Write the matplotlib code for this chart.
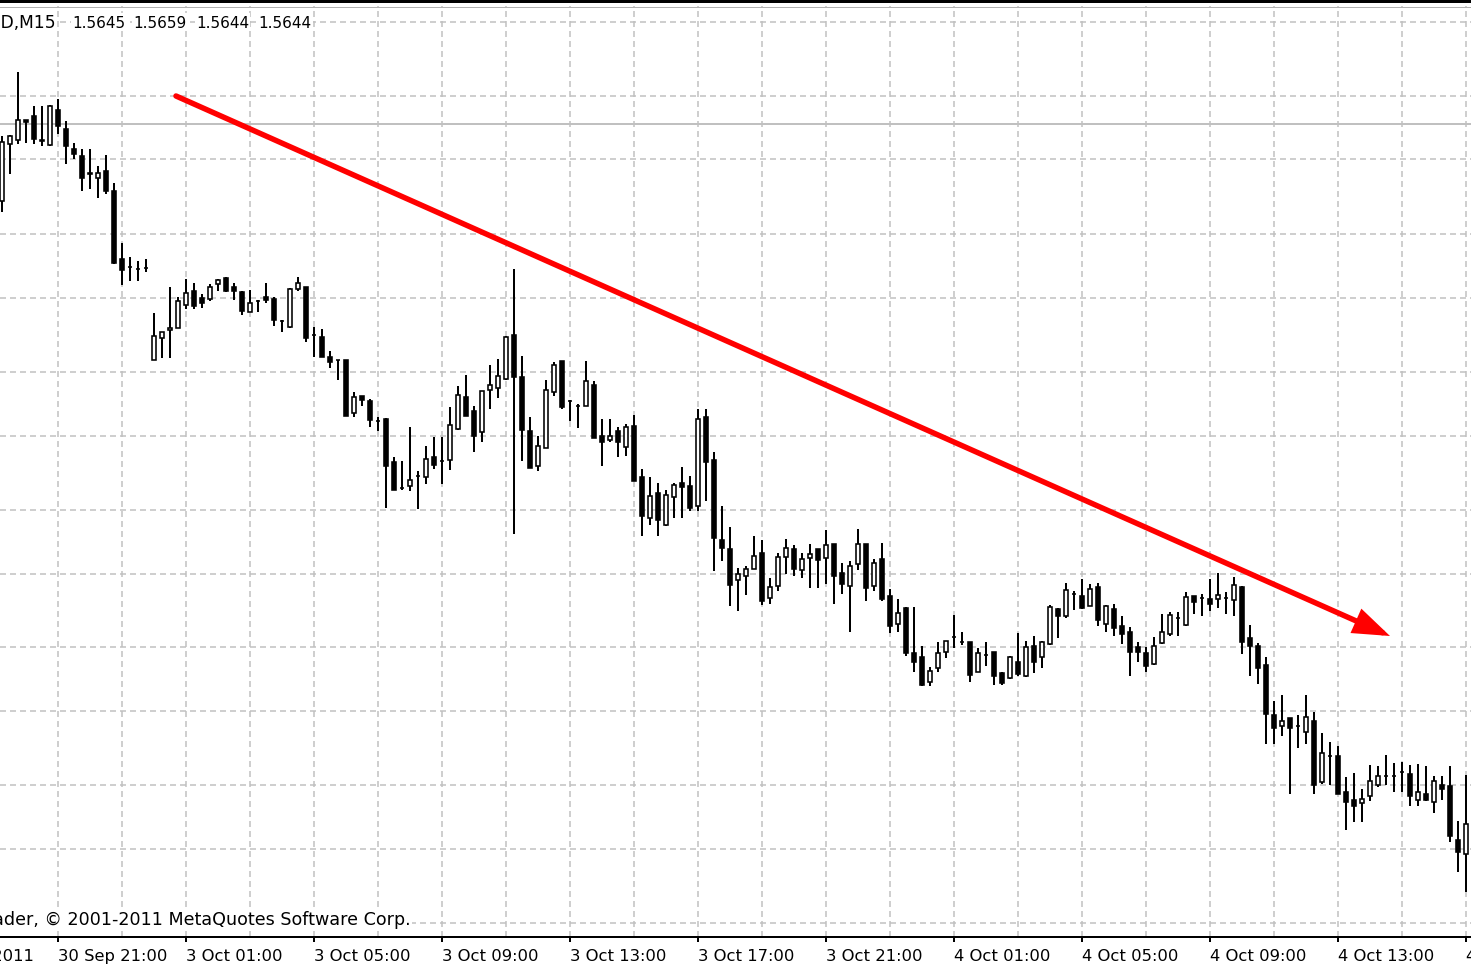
import matplotlib
matplotlib.use("Agg")
import matplotlib.pyplot as plt
from matplotlib.patches import Rectangle
from matplotlib.lines import Line2D

# ---------------- data (GBPUSD, M15) ----------------
opens = [
    1.56209, 1.56380, 1.56392, 1.56452, 1.56464, 1.56392, 1.56377, 1.56482, 1.56425, 1.56365,
    1.56344, 1.56293, 1.56278, 1.56299, 1.56239, 1.56035, 1.56011, 1.56005, 1.56008, 1.55732,
    1.55798, 1.55822, 1.55828, 1.55897, 1.55939, 1.55918, 1.55915, 1.55960, 1.55978, 1.55951,
    1.55936, 1.55876, 1.55909, 1.55921, 1.55915, 1.55849, 1.55831, 1.55945, 1.55951, 1.55807,
    1.55801, 1.55741, 1.55732, 1.55732, 1.55573, 1.55624, 1.55609, 1.55549, 1.55555, 1.55426,
    1.55348, 1.55354, 1.55384, 1.55381, 1.55441, 1.55429, 1.55432, 1.55525, 1.55621, 1.55579,
    1.55516, 1.55642, 1.55648, 1.55675, 1.55807, 1.55681, 1.55519, 1.55414, 1.55468, 1.55636,
    1.55729, 1.55609, 1.55594, 1.55594, 1.55657, 1.55504, 1.55492, 1.55519, 1.55471, 1.55534,
    1.55381, 1.55258, 1.55333, 1.55237, 1.55321, 1.55363, 1.55354, 1.55294, 1.55561, 1.55432,
    1.55192, 1.55165, 1.55072, 1.55084, 1.55105, 1.55153, 1.55018, 1.55054, 1.55141, 1.55165,
    1.55102, 1.55138, 1.55165, 1.55138, 1.55180, 1.55093, 1.55054, 1.55120, 1.55180, 1.55054,
    1.55135, 1.55024, 1.54940, 1.54988, 1.54853, 1.54841, 1.54766, 1.54808, 1.54856, 1.54901,
    1.54886, 1.54886, 1.54796, 1.54847, 1.54856, 1.54793, 1.54778, 1.54826, 1.54784, 1.54874,
    1.54841, 1.54880, 1.54985, 1.54964, 1.55030, 1.55024, 1.54994, 1.55051, 1.54940, 1.54985,
    1.54934, 1.54916, 1.54871, 1.54853, 1.54820, 1.54883, 1.54910, 1.54958, 1.54937, 1.55024,
    1.55018, 1.55015, 1.55015, 1.55018, 1.55012, 1.55051, 1.54898, 1.54874, 1.54817, 1.54667,
    1.54634, 1.54658, 1.54634, 1.54616, 1.54649, 1.54466, 1.54544, 1.54544, 1.54436, 1.54412,
    1.54403, 1.54424, 1.54457, 1.54484, 1.54484, 1.54496, 1.54490, 1.54412, 1.54430, 1.54406,
    1.54457, 1.54454, 1.54292, 1.54250,
]
highs = [
    1.56404, 1.56407, 1.56596, 1.56452, 1.56494, 1.56494, 1.56497, 1.56515, 1.56449, 1.56383,
    1.56365, 1.56365, 1.56314, 1.56347, 1.56263, 1.56083, 1.56041, 1.56029, 1.56035, 1.55873,
    1.55816, 1.55951, 1.55921, 1.55975, 1.55963, 1.55930, 1.55960, 1.55975, 1.55981, 1.55963,
    1.55939, 1.55942, 1.55912, 1.55963, 1.55921, 1.55852, 1.55948, 1.55981, 1.55951, 1.55831,
    1.55825, 1.55759, 1.55732, 1.55732, 1.55636, 1.55624, 1.55615, 1.55561, 1.55558, 1.55441,
    1.55429, 1.55531, 1.55399, 1.55474, 1.55501, 1.55501, 1.55591, 1.55654, 1.55687, 1.55594,
    1.55639, 1.55717, 1.55735, 1.55804, 1.56005, 1.55744, 1.55561, 1.55504, 1.55672, 1.55726,
    1.55729, 1.55612, 1.55600, 1.55729, 1.55669, 1.55555, 1.55555, 1.55531, 1.55540, 1.55567,
    1.55405, 1.55381, 1.55363, 1.55342, 1.55363, 1.55411, 1.55384, 1.55585, 1.55585, 1.55456,
    1.55294, 1.55231, 1.55108, 1.55114, 1.55204, 1.55192, 1.55078, 1.55153, 1.55195, 1.55177,
    1.55153, 1.55180, 1.55165, 1.55222, 1.55180, 1.55123, 1.55129, 1.55225, 1.55180, 1.55135,
    1.55183, 1.55045, 1.55015, 1.54991, 1.54991, 1.54874, 1.54811, 1.54886, 1.54889, 1.54967,
    1.54916, 1.54886, 1.54868, 1.54886, 1.54856, 1.54796, 1.54844, 1.54913, 1.54889, 1.54904,
    1.54889, 1.54997, 1.54988, 1.55063, 1.55039, 1.55075, 1.55060, 1.55063, 1.54997, 1.55000,
    1.54964, 1.54931, 1.54886, 1.54871, 1.54901, 1.54970, 1.54976, 1.54976, 1.55036, 1.55024,
    1.55030, 1.55075, 1.55093, 1.55036, 1.55081, 1.55054, 1.54937, 1.54883, 1.54841, 1.54709,
    1.54727, 1.54658, 1.54667, 1.54727, 1.54676, 1.54613, 1.54586, 1.54574, 1.54481, 1.54493,
    1.54445, 1.54517, 1.54514, 1.54547, 1.54523, 1.54526, 1.54517, 1.54520, 1.54514, 1.54484,
    1.54484, 1.54514, 1.54349, 1.54487,
]
lows = [
    1.56176, 1.56290, 1.56380, 1.56383, 1.56380, 1.56374, 1.56374, 1.56410, 1.56320, 1.56335,
    1.56239, 1.56245, 1.56218, 1.56230, 1.56020, 1.55957, 1.55969, 1.55969, 1.55996, 1.55732,
    1.55738, 1.55738, 1.55828, 1.55885, 1.55885, 1.55888, 1.55909, 1.55939, 1.55936, 1.55912,
    1.55867, 1.55876, 1.55876, 1.55903, 1.55834, 1.55816, 1.55828, 1.55939, 1.55786, 1.55741,
    1.55741, 1.55708, 1.55672, 1.55564, 1.55561, 1.55594, 1.55531, 1.55519, 1.55288, 1.55342,
    1.55342, 1.55339, 1.55285, 1.55360, 1.55405, 1.55360, 1.55402, 1.55522, 1.55564, 1.55456,
    1.55486, 1.55585, 1.55618, 1.55672, 1.55210, 1.55429, 1.55408, 1.55399, 1.55468, 1.55624,
    1.55585, 1.55549, 1.55528, 1.55594, 1.55498, 1.55414, 1.55486, 1.55441, 1.55444, 1.55369,
    1.55204, 1.55237, 1.55204, 1.55234, 1.55258, 1.55258, 1.55279, 1.55279, 1.55309, 1.55099,
    1.55129, 1.54994, 1.54979, 1.55027, 1.55105, 1.54997, 1.55000, 1.55039, 1.55090, 1.55084,
    1.55078, 1.55048, 1.55048, 1.55060, 1.55000, 1.55030, 1.54916, 1.55102, 1.55009, 1.55039,
    1.55009, 1.54913, 1.54916, 1.54844, 1.54796, 1.54754, 1.54754, 1.54796, 1.54838, 1.54868,
    1.54877, 1.54766, 1.54796, 1.54814, 1.54757, 1.54757, 1.54775, 1.54784, 1.54781, 1.54793,
    1.54808, 1.54877, 1.54898, 1.54958, 1.54982, 1.54985, 1.54994, 1.54934, 1.54916, 1.54904,
    1.54880, 1.54784, 1.54826, 1.54796, 1.54817, 1.54880, 1.54904, 1.54904, 1.54934, 1.54970,
    1.54964, 1.54979, 1.54988, 1.54970, 1.54964, 1.54850, 1.54784, 1.54760, 1.54580, 1.54580,
    1.54604, 1.54430, 1.54568, 1.54580, 1.54430, 1.54460, 1.54457, 1.54430, 1.54322, 1.54346,
    1.54346, 1.54409, 1.54451, 1.54457, 1.54436, 1.54436, 1.54394, 1.54394, 1.54409, 1.54373,
    1.54412, 1.54286, 1.54196, 1.54136,
]
closes = [
    1.56386, 1.56404, 1.56452, 1.56446, 1.56395, 1.56389, 1.56494, 1.56434, 1.56374, 1.56350,
    1.56278, 1.56290, 1.56293, 1.56239, 1.56023, 1.56002, 1.56011, 1.56005, 1.56008, 1.55804,
    1.55816, 1.55828, 1.55909, 1.55933, 1.55894, 1.55903, 1.55951, 1.55972, 1.55939, 1.55939,
    1.55879, 1.55903, 1.55909, 1.55912, 1.55852, 1.55849, 1.55945, 1.55963, 1.55798, 1.55807,
    1.55741, 1.55726, 1.55732, 1.55564, 1.55621, 1.55612, 1.55552, 1.55549, 1.55414, 1.55342,
    1.55348, 1.55372, 1.55384, 1.55435, 1.55417, 1.55429, 1.55537, 1.55627, 1.55564, 1.55504,
    1.55639, 1.55657, 1.55684, 1.55801, 1.55681, 1.55522, 1.55408, 1.55474, 1.55642, 1.55717,
    1.55591, 1.55609, 1.55594, 1.55669, 1.55498, 1.55486, 1.55504, 1.55486, 1.55531, 1.55369,
    1.55264, 1.55324, 1.55252, 1.55327, 1.55357, 1.55351, 1.55288, 1.55555, 1.55426, 1.55198,
    1.55168, 1.55057, 1.55090, 1.55105, 1.55144, 1.55009, 1.55051, 1.55141, 1.55168, 1.55105,
    1.55135, 1.55150, 1.55132, 1.55177, 1.55084, 1.55060, 1.55114, 1.55180, 1.55048, 1.55123,
    1.55015, 1.54934, 1.54973, 1.54853, 1.54826, 1.54757, 1.54799, 1.54853, 1.54889, 1.54901,
    1.54886, 1.54787, 1.54853, 1.54847, 1.54784, 1.54763, 1.54841, 1.54790, 1.54871, 1.54826,
    1.54886, 1.54991, 1.54964, 1.55042, 1.55030, 1.54988, 1.55045, 1.54952, 1.54994, 1.54928,
    1.54910, 1.54856, 1.54856, 1.54814, 1.54874, 1.54916, 1.54967, 1.54958, 1.55021, 1.55006,
    1.55018, 1.55000, 1.55027, 1.55018, 1.55057, 1.54886, 1.54874, 1.54808, 1.54670, 1.54628,
    1.54649, 1.54628, 1.54634, 1.54661, 1.54457, 1.54553, 1.54544, 1.54430, 1.54406, 1.54394,
    1.54415, 1.54469, 1.54484, 1.54484, 1.54484, 1.54496, 1.54424, 1.54436, 1.54412, 1.54469,
    1.54445, 1.54304, 1.54256, 1.54340,
]

# time axis labels: bar index of each label (bar 7 = 30 Sep 21:00, 16 bars = 4 hours)
tick_bars = [-9, 7, 23, 39, 55, 71, 87, 103, 119, 135, 151, 167, 183]
tick_labels = ["30 Sep 2011", "30 Sep 21:00", "3 Oct 01:00", "3 Oct 05:00", "3 Oct 09:00",
               "3 Oct 13:00", "3 Oct 17:00", "3 Oct 21:00", "4 Oct 01:00", "4 Oct 05:00",
               "4 Oct 09:00", "4 Oct 13:00", "4 Oct 17:00"]

symbol = "GBPUSD,M15"
header_ohlc = [1.5645, 1.5659, 1.5644, 1.5644]
bid_price = 1.5644

# hand-drawn trend arrow (bar index, price)
trend_x = [21.75, 173.5]
trend_y = [1.56524, 1.54904]

# price grid levels
grid_levels = [1.56746, 1.56524, 1.56335, 1.56110, 1.55918, 1.55696, 1.55504,
               1.55282, 1.55090, 1.54871, 1.54679, 1.54457, 1.54265, 1.54043]

# ---------------- figure ----------------
W, H = 1471, 970
DPI = 100
PX = 72.0 / DPI  # points per pixel
plt.rcParams['lines.scale_dashes'] = False
plt.rcParams['font.family'] = ['DejaVu Sans']

fig = plt.figure(figsize=(W / DPI, H / DPI), dpi=DPI, facecolor='white')
ax_top_px, ax_bot_px = 7, 938
ax = fig.add_axes([0, (H - ax_bot_px) / H, 1, (ax_bot_px - ax_top_px) / H])
ax.set_facecolor('white')
n = len(opens)
xs = list(range(n))
ax.set_xlim(-0.25, 183.625)
ax.set_ylim(1.54001, 1.56794)

grid_color = '#c0c0c0'
dash = (6 * PX, 4 * PX)
for lvl in grid_levels:
    ax.axhline(lvl, color=grid_color, lw=1.5 * PX, dashes=dash, zorder=0)
for b in range(-1, n, 8):
    ax.axvline(b, color=grid_color, lw=1.5 * PX, dashes=dash, zorder=0)

# bid line
ax.axhline(bid_price, color='#c0c0c0', lw=2 * PX, zorder=0.5)

# candles
ax.vlines(xs, lows, highs, color='black', lw=2.0 * PX, zorder=2)
bodies_bottom = [min(o, c) for o, c in zip(opens, closes)]
bodies_h = [abs(c - o) for o, c in zip(opens, closes)]
face = ['white' if c >= o else 'black' for o, c in zip(opens, closes)]
ax.bar(xs, bodies_h, bottom=bodies_bottom, width=0.55, color=face,
       edgecolor='black', linewidth=1.6 * PX, zorder=3)

# trend arrow
ax.annotate('', xy=(trend_x[1], trend_y[1]), xytext=(trend_x[0], trend_y[0]),
            arrowprops=dict(arrowstyle='-|>,head_length=0.95,head_width=0.34',
                            mutation_scale=20, color='#ff0000', lw=5.5 * PX,
                            shrinkA=0, shrinkB=0, joinstyle='miter'),
            zorder=5)

# axes decorations
for s in ['top', 'left', 'right']:
    ax.spines[s].set_visible(False)
ax.spines['bottom'].set_color('black')
ax.spines['bottom'].set_linewidth(2 * PX)
ax.set_yticks([])
ax.set_xticks([b for b in tick_bars if b >= 0])
ax.tick_params(axis='x', direction='out', length=5 * PX, width=2 * PX,
               color='black', labelbottom=False)

fs_tick = 11.8
trans = ax.get_xaxis_transform()
for b, lab in zip(tick_bars, tick_labels):
    ax.text(b, -19 / (ax_bot_px - ax_top_px), lab, transform=trans, ha='left',
            va='center', fontsize=fs_tick, color='black', clip_on=False)

def fx(x):
    return x / W

def fy(y):
    return 1 - y / H

# header
bb = dict(facecolor='white', edgecolor='none', pad=1)
fig.text(fx(56), fy(23), symbol, ha='right', va='center', fontsize=12.3, bbox=bb)
for xp, v in zip([72, 133, 196, 258], header_ohlc):
    fig.text(fx(xp), fy(23), f"{v:.4f}", ha='left', va='center', fontsize=11, bbox=bb)

# copyright
fig.text(fx(411), fy(920), "MetaTrader, \u00a9 2001-2011 MetaQuotes Software Corp.",
         ha='right', va='center', fontsize=12.6, bbox=bb)

# window frame line at top
fig.add_artist(Rectangle((0, fy(4)), 1, 4 / H, transform=fig.transFigure,
                         facecolor='black', edgecolor='none'))
fig.add_artist(Line2D([0, 1], [fy(7.5), fy(7.5)], transform=fig.transFigure,
                      color='#b0b0b0', lw=1 * PX))

fig.savefig('out.png', dpi=DPI, facecolor='white')
